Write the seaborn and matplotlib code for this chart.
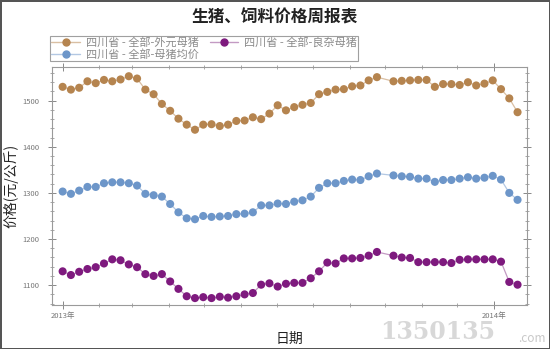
import matplotlib
matplotlib.use("Agg")
import matplotlib.pyplot as plt
import matplotlib.dates as mdates
from matplotlib.ticker import MultipleLocator
from matplotlib.lines import Line2D
import seaborn as sns
import pandas as pd

dates = [
    "2013-01-01", "2013-01-08", "2013-01-15", "2013-01-22", "2013-01-29",
    "2013-02-05", "2013-02-12", "2013-02-19", "2013-02-26", "2013-03-05",
    "2013-03-12", "2013-03-19", "2013-03-26", "2013-04-02", "2013-04-09",
    "2013-04-16", "2013-04-23", "2013-04-30", "2013-05-07", "2013-05-14",
    "2013-05-21", "2013-05-28", "2013-06-04", "2013-06-11", "2013-06-18",
    "2013-06-25", "2013-07-02", "2013-07-09", "2013-07-16", "2013-07-23",
    "2013-07-30", "2013-08-06", "2013-08-13", "2013-08-20", "2013-08-27",
    "2013-09-03", "2013-09-10", "2013-09-17", "2013-09-24",
    "2013-10-08", "2013-10-15", "2013-10-22", "2013-10-29", "2013-11-05",
    "2013-11-12", "2013-11-19", "2013-11-26", "2013-12-03", "2013-12-10",
    "2013-12-17", "2013-12-24", "2013-12-31", "2014-01-07", "2014-01-14",
    "2014-01-21",
]

waiyuan = [1530, 1524, 1528, 1542, 1538, 1545, 1542, 1546, 1553, 1548,
           1524, 1514, 1493, 1478, 1461, 1448, 1437, 1448, 1449, 1445,
           1448, 1456, 1457, 1464, 1460, 1472, 1490, 1479, 1486, 1491,
           1495, 1514, 1519, 1524, 1525, 1531, 1533, 1544, 1551,
           1542, 1543, 1544, 1545, 1545, 1530, 1536, 1536, 1534, 1540,
           1533, 1537, 1544, 1525, 1505, 1475]

junjia = [1303, 1298, 1305, 1313, 1313, 1321, 1323, 1323, 1321, 1316,
          1298, 1295, 1292, 1276, 1258, 1245, 1243, 1250, 1248, 1249,
          1250, 1254, 1255, 1258, 1273, 1273, 1277, 1276, 1281, 1284,
          1292, 1311, 1321, 1321, 1326, 1329, 1328, 1336, 1342,
          1338, 1336, 1335, 1331, 1331, 1324, 1328, 1328, 1331, 1334,
          1331, 1333, 1337, 1329, 1300, 1285]

liangza = [1130, 1122, 1129, 1135, 1139, 1147, 1156, 1154, 1145, 1139,
           1124, 1120, 1124, 1108, 1092, 1076, 1072, 1074, 1072, 1075,
           1073, 1076, 1080, 1083, 1101, 1104, 1097, 1103, 1105, 1105,
           1115, 1130, 1149, 1147, 1158, 1158, 1159, 1164, 1172,
           1164, 1160, 1159, 1150, 1150, 1150, 1150, 1148, 1155, 1156,
           1156, 1156, 1156, 1151, 1107, 1101]

series_names = ["四川省 - 全部-外元母猪", "四川省 - 全部-母猪均价", "四川省 - 全部-良杂母猪"]
series_colors = ["#b5844f", "#6d96c9", "#7e1a7e"]
line_colors = ["#d9bfa3", "#b3c8e3", "#c39ac3"]
x_tick_labels = ["2013年", "2014年"]
x_tick_dates = ["2013-01-01", "2014-01-01"]
y_ticks = [1100, 1200, 1300, 1400, 1500]

sns.set_theme(style="white")
plt.rcParams["font.family"] = ["Noto Sans CJK SC", "DejaVu Sans"]

frames = []
for name, vals in zip(series_names, [waiyuan, junjia, liangza]):
    frames.append(pd.DataFrame({"date": pd.to_datetime(dates), "price": vals, "series": name}))
long = pd.concat(frames, ignore_index=True)

fig = plt.figure(figsize=(5.5, 3.49), dpi=100)
ax = fig.add_axes([52 / 550, 1 - 305 / 349, (527 - 52) / 550, (305 - 67) / 349])

for name, c, lc in zip(series_names, series_colors, line_colors):
    sub = long[long["series"] == name]
    sns.lineplot(data=sub, x="date", y="price", ax=ax, color=lc, linewidth=0.9,
                 legend=False, zorder=2)
    sns.scatterplot(data=sub, x="date", y="price", ax=ax, color=c, s=34,
                    edgecolor="none", legend=False, zorder=3)

handles = [Line2D([0], [0], color=lc, lw=1.0, marker="o", markersize=5,
                  markerfacecolor=c, markeredgecolor=c)
           for c, lc in zip(series_colors, line_colors)]
leg = fig.legend(handles, series_names, ncol=2, loc="upper left",
                 bbox_to_anchor=(50 / 550, 1 - 36 / 349), frameon=True,
                 fontsize=8.0, handlelength=2.6, columnspacing=1.0,
                 labelspacing=0.12, borderpad=0.1, handletextpad=0.5,
                 fancybox=False, borderaxespad=0)
leg.get_frame().set_edgecolor("#888888")
leg.get_frame().set_linewidth(0.8)
for t in leg.get_texts():
    t.set_color("#8a8a8a")

ax.set_xlim(pd.Timestamp("2012-12-23"), pd.Timestamp("2014-01-29"))
ax.set_ylim(1057, 1573)
ax.set_xticks(pd.to_datetime(x_tick_dates))
ax.set_xticklabels(x_tick_labels)
ax.xaxis.set_minor_locator(mdates.MonthLocator())
ax.set_yticks(y_ticks)
ax.yaxis.set_minor_locator(MultipleLocator(20))

for s in ax.spines.values():
    s.set_color("#9a9a9a")
    s.set_linewidth(0.8)
ax.tick_params(axis="both", which="major", direction="inout", length=6, width=0.7,
               color="#888888", labelsize=5.5, labelcolor="#777777",
               top=True, right=True, bottom=True, left=True)
ax.tick_params(axis="both", which="minor", direction="inout", length=3.5, width=0.6,
               color="#999999", top=True, right=True, bottom=True, left=True)
ax.tick_params(axis="x", which="major", pad=2)
ax.tick_params(axis="y", which="major", pad=6)

ax.set_xlabel("日期", fontsize=10, color="#222222")
ax.xaxis.set_label_coords(0.5, -27 / 238)
ax.set_ylabel("价格(元/公斤)", fontsize=10, color="#222222")
ax.yaxis.set_label_coords(-34 / 475, 0.5)

fig.text(0.5, 1 - 17 / 349, "生猪、饲料价格周报表", ha="center", va="center",
         fontsize=12, fontweight="bold", color="#222222")

# watermark
fig.text(438 / 550, 1 - 332 / 349, "1350135", ha="center", va="center",
         fontsize=17, fontweight="bold", color="#d8d8d8", family="DejaVu Serif")
fig.text(532 / 550, 1 - 338 / 349, ".com", ha="center", va="center",
         fontsize=8.5, color="#c8c8c8")

fig.patch.set_edgecolor("#555555")
fig.patch.set_linewidth(2)

fig.savefig("out.png", dpi=100, edgecolor=fig.get_edgecolor())
